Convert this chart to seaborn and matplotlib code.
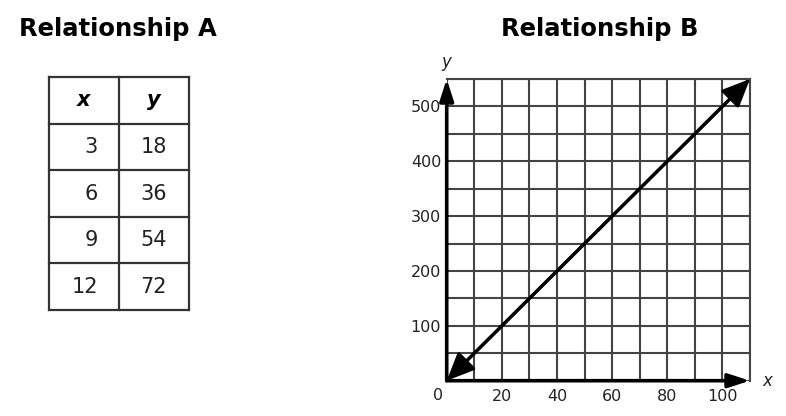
import matplotlib
matplotlib.use("Agg")
import numpy as np
import pandas as pd
import matplotlib.pyplot as plt
import seaborn as sns

# data
table_x = [3, 6, 9, 12]
table_y = [18, 36, 54, 72]

line_x = [0, 110]
line_y = [0, 550]

x_labels = [20, 40, 60, 80, 100]
y_labels = [100, 200, 300, 400, 500]
x_grid = list(range(0, 111, 10))
y_grid = list(range(0, 551, 50))

sns.set_style("white")
plt.rcParams['font.family'] = ['DejaVu Sans']

W, H = 786, 416
fig = plt.figure(figsize=(W / 100, H / 100), dpi=100)

# pixel overlay for titles and table
bg = fig.add_axes([0, 0, 1, 1])
bg.set_xlim(0, W)
bg.set_ylim(H, 0)
bg.axis('off')

bg.text(117.5, 29, "Relationship A", ha='center', va='center', fontsize=17.5,
        fontweight='bold', color='black')
bg.text(599.5, 29, "Relationship B", ha='center', va='center', fontsize=17.5,
        fontweight='bold', color='black')

# table A
col_edges = [49, 119, 189]
row_h = 46.6
top = 77
n_rows = len(table_x) + 1
row_edges = [top + row_h * i for i in range(n_rows + 1)]
for yy in row_edges:
    bg.plot([col_edges[0], col_edges[-1]], [yy, yy], color='#333333', lw=1.6, solid_capstyle='projecting')
for xx in col_edges:
    bg.plot([xx, xx], [row_edges[0], row_edges[-1]], color='#333333', lw=1.6, solid_capstyle='projecting')

c1 = (col_edges[0] + col_edges[1]) / 2
c2 = (col_edges[1] + col_edges[2]) / 2
hy = (row_edges[0] + row_edges[1]) / 2
bg.text(c1, hy, "x", ha='center', va='center', fontsize=15, fontweight='bold', style='italic', color='black')
bg.text(c2, hy, "y", ha='center', va='center', fontsize=15, fontweight='bold', style='italic', color='black')
for i, (xv, yv) in enumerate(zip(table_x, table_y)):
    cy = (row_edges[i + 1] + row_edges[i + 2]) / 2
    bg.text(col_edges[1] - 21, cy, str(xv), ha='right', va='center', fontsize=15, color='#222222')
    bg.text(c2, cy, str(yv), ha='center', va='center', fontsize=15, color='#222222')

# graph B
x0, x1, y0, y1 = 446.7, 750, 79, 380.7
ax = fig.add_axes([x0 / W, 1 - y1 / H, (x1 - x0) / W, (y1 - y0) / H])
df = pd.DataFrame({'x': line_x, 'y': line_y})
sns.lineplot(data=df, x='x', y='y', ax=ax, color='black', linewidth=2.3)
ax.set_xlim(line_x[0], line_x[-1])
ax.set_ylim(line_y[0], line_y[-1])
ax.set_xticks(x_grid)
ax.set_xticklabels([str(v) if v in x_labels else '' for v in x_grid])
ax.set_yticks(y_grid)
ax.set_yticklabels([str(v) if v in y_labels else '' for v in y_grid])
ax.tick_params(axis='x', length=0, pad=6, labelsize=11.5, labelcolor='#222222')
ax.tick_params(axis='y', length=0, pad=4, labelsize=11.5, labelcolor='#222222')
ax.set_xlabel('')
ax.set_ylabel('')
ax.set_axisbelow(True)
ax.grid(True, color='#444444', linewidth=1.5)
for side in ['left', 'bottom']:
    ax.spines[side].set_visible(False)
for side in ['top', 'right']:
    ax.spines[side].set_color('#444444')
    ax.spines[side].set_linewidth(1.5)

# axis arrows
axis_arrow = dict(arrowstyle='-|>,head_length=1.3,head_width=0.42', mutation_scale=10,
                  lw=2.6, color='black', shrinkA=0, shrinkB=0)
ax.annotate('', xy=(line_x[-1], 0), xytext=(0, 0), arrowprops=axis_arrow)
ax.annotate('', xy=(0, line_y[-1]), xytext=(0, 0), arrowprops=axis_arrow)

# arrowheads on the line
line_arrow = dict(arrowstyle='-|>,head_length=1.7,head_width=0.75', mutation_scale=10,
                  lw=2.3, color='black', shrinkA=0, shrinkB=0)
mid = (np.mean(line_x), np.mean(line_y))
ax.annotate('', xy=(line_x[-1], line_y[-1]), xytext=mid, arrowprops=line_arrow)
ax.annotate('', xy=(line_x[0], line_y[0]), xytext=mid, arrowprops=line_arrow)

ax.annotate('0', xy=(0, 0), xytext=(-6.5, -10.5), textcoords='offset points',
            ha='center', va='center', fontsize=11.5, color='#222222')
ax.annotate('y', xy=(0, line_y[-1]), xytext=(0, 12.5), textcoords='offset points',
            ha='center', va='center', fontsize=12, style='italic', color='#222222')
ax.annotate('x', xy=(line_x[-1], 0), xytext=(12.5, 0), textcoords='offset points',
            ha='center', va='center', fontsize=12, style='italic', color='#222222')

fig.savefig("out.png", dpi=100)
